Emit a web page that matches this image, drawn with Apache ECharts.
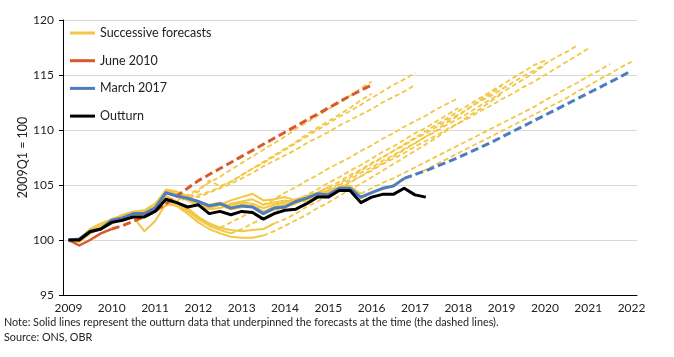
<!DOCTYPE html>
<html><head><meta charset="utf-8">
<script src="https://cdn.jsdelivr.net/npm/echarts@6/dist/echarts.min.js"></script>
<style>html,body{margin:0;padding:0;background:#fff}#c{width:674px;height:357px}</style>
</head><body><div id="c"></div>
<script>
const years = [2009,2010,2011,2012,2013,2014,2015,2016,2017,2018,2019,2020,2021,2022];
const yTicks = [95, 100, 105, 110, 115, 120];

// Outturn (latest data), 2009Q1 onwards
const outturn = [100, 100.0, 100.75, 101.0, 101.6, 101.8, 102.1, 102.1, 102.6, 103.7, 103.4, 103.0, 103.2, 102.4, 102.6, 102.3, 102.6, 102.5, 101.9, 102.4, 102.7, 102.8, 103.3, 103.9, 103.9, 104.5, 104.5, 103.4, 103.9, 104.15, 104.15, 104.7, 104.1, 103.9];

// June 2010 forecast (outturn at the time + forecast), last outturn quarter
const june2010 = [100, 99.5, 100.0, 100.6, 101.0, 101.3, 101.7, 102.1, 102.6, 103.3, 104.0, 104.7, 105.4, 105.95, 106.5, 107.05, 107.6, 108.15, 108.7, 109.25, 109.8, 110.35, 110.9, 111.45, 112.0, 112.55, 113.1, 113.6, 114.1];
const june2010Start = '2010Q1';

// March 2017 forecast
const march2017 = [100, 100.1, 100.8, 101.0, 101.8, 102.0, 102.4, 102.4, 102.9, 104.3, 104.0, 103.8, 103.5, 103.1, 103.3, 102.9, 103.1, 103.0, 102.4, 102.9, 103.0, 103.5, 103.8, 104.2, 104.1, 104.7, 104.7, 103.9, 104.3, 104.7, 104.9, 105.6, 105.95, 106.3, 106.7, 107.1, 107.5, 107.95, 108.4, 108.85, 109.35, 109.85, 110.35, 110.85, 111.35, 111.85, 112.35, 112.85, 113.35, 113.85, 114.35, 114.85, 115.4];
const march2017Start = '2016Q4';

// Successive forecasts
const nov2010 = [100, 99.8, 100.6, 101.2, 101.6, 101.9, 102.0, 102.3, 102.7, 103.1, 103.6, 104.1, 104.6, 105.2, 105.75, 106.4, 107.0, 107.6, 108.2, 108.8, 109.4, 110.1, 110.7, 111.3, 111.9, 112.5, 113.1, 113.8, 114.4];
const mar2011 = [100, 100.0, 100.9, 101.3, 101.8, 102.2, 102.3, 102.4, 102.8, 103.2, 103.5, 103.8, 104.1, 104.4, 104.8, 105.3, 105.9, 106.5, 107.1, 107.7, 108.3, 108.9, 109.6, 110.2, 110.8, 111.4, 112.0, 112.7, 113.3];
const nov2011 = [100, 99.9, 100.7, 101.2, 101.8, 102.3, 102.6, 102.7, 103.3, 104.5, 104.0, 103.9, 104.4, 105.4, 104.9, 105.3, 105.9, 106.5, 107.0, 107.6, 108.2, 108.8, 109.4, 110.0, 110.6, 111.2, 111.7, 112.3, 112.9, 113.5, 114.1, 114.6, 115.2];
const mar2012 = [100, 100.0, 100.8, 101.1, 101.7, 102.1, 102.3, 102.4, 103.0, 104.6, 104.4, 104.0, 103.9, 104.3, 104.7, 105.1, 105.6, 106.1, 106.7, 107.2, 107.7, 108.2, 108.8, 109.3, 109.8, 110.4, 110.9, 111.4, 111.9, 112.5, 113.0, 113.5, 114.1];
const dec2012 = [100, 100.1, 101.0, 101.5, 101.9, 102.1, 102.1, 100.8, 101.7, 103.3, 103.1, 102.6, 102.0, 101.5, 101.1, 101.6, 102.1, 102.6, 103.2, 103.7, 104.3, 104.8, 105.4, 105.9, 106.5, 107.0, 107.5, 108.1, 108.6, 109.2, 109.7, 110.3, 110.8, 111.3, 111.9, 112.4, 112.9];
const mar2013 = [100, 99.9, 100.7, 101.1, 101.6, 101.9, 102.1, 102.3, 102.9, 104.0, 103.4, 102.7, 101.9, 101.3, 100.9, 100.6, 101.0, 101.5, 102.0, 102.5, 103.0, 103.5, 104.1, 104.6, 105.2, 105.7, 106.3, 106.8, 107.4, 108.0, 108.5, 109.1, 109.7, 110.2, 110.8, 111.4, 112.0];
const dec2013 = [100, 99.9, 100.6, 101.0, 101.5, 101.9, 102.1, 102.2, 102.7, 103.8, 103.1, 102.4, 101.6, 101.0, 100.6, 100.3, 100.2, 100.2, 100.4, 100.8, 101.3, 101.8, 102.3, 102.9, 103.4, 104.0, 104.6, 105.1, 105.7, 106.3, 106.9, 107.5, 108.1, 108.7, 109.3, 110.0, 110.6, 111.3, 111.9, 112.6, 113.3];
const mar2014 = [100, 100.0, 100.8, 101.2, 101.7, 102.0, 102.2, 102.3, 102.8, 104.0, 103.5, 102.9, 102.1, 101.5, 101.1, 100.9, 100.8, 100.9, 101.0, 101.5, 101.9, 102.4, 103.0, 103.5, 104.1, 104.7, 105.2, 105.8, 106.4, 107.0, 107.6, 108.2, 108.8, 109.4, 110.0, 110.7, 111.3, 112.0, 112.7, 113.3, 114.0];
const dec2014 = [100, 100.1, 100.9, 101.2, 101.9, 102.2, 102.5, 102.5, 103.0, 104.4, 104.1, 103.7, 103.3, 102.9, 103.2, 103.6, 103.9, 104.2, 103.6, 103.7, 103.9, 103.6, 103.5, 104.0, 104.6, 105.1, 105.7, 106.3, 106.9, 107.5, 108.1, 108.7, 109.3, 109.9, 110.5, 111.1, 111.7, 112.3, 112.9, 113.5, 114.1, 114.7, 115.3, 115.9, 116.3];
const mar2015 = [100, 100.0, 100.8, 101.1, 101.8, 102.1, 102.4, 102.5, 102.9, 104.3, 104.0, 103.6, 103.1, 102.8, 102.9, 103.3, 103.5, 103.7, 103.2, 103.4, 103.6, 103.4, 103.7, 103.9, 104.4, 105.0, 105.5, 106.1, 106.6, 107.2, 107.7, 108.3, 108.8, 109.4, 109.9, 110.5, 111.0, 111.6, 112.2, 112.8, 113.4, 114.0, 114.6, 115.2, 115.9];
const jul2015 = [100, 100.1, 100.9, 101.2, 101.9, 102.2, 102.5, 102.6, 103.1, 104.5, 104.2, 103.9, 103.5, 103.2, 103.4, 103.1, 103.4, 103.3, 102.9, 103.2, 103.4, 103.7, 104.0, 104.3, 104.8, 105.3, 105.9, 106.4, 107.0, 107.5, 108.1, 108.6, 109.2, 109.7, 110.3, 110.9, 111.4, 112.0, 112.6, 113.1, 113.7, 114.3, 114.9, 115.4, 116.0, 116.6, 117.1, 117.7];
const nov2015 = [100, 100.0, 100.8, 101.1, 101.8, 102.1, 102.4, 102.5, 103.0, 104.4, 104.1, 103.8, 103.4, 103.0, 103.2, 102.9, 103.2, 103.1, 102.6, 103.0, 103.2, 103.5, 103.9, 104.2, 104.5, 104.8, 105.3, 105.8, 106.3, 106.9, 107.4, 107.9, 108.5, 109.0, 109.5, 110.1, 110.6, 111.1, 111.7, 112.2, 112.8, 113.3, 113.9, 114.4, 115.0, 115.6, 116.2, 116.8, 117.4];
const mar2016 = [100, 100.1, 100.8, 101.1, 101.8, 102.1, 102.4, 102.5, 102.9, 104.3, 104.0, 103.7, 103.4, 103.0, 103.2, 102.8, 103.0, 103.0, 102.4, 102.8, 103.0, 103.3, 103.8, 104.1, 104.3, 104.8, 104.9, 104.2, 104.7, 105.2, 105.6, 106.1, 106.6, 107.1, 107.6, 108.1, 108.6, 109.1, 109.6, 110.1, 110.6, 111.1, 111.6, 112.1, 112.7, 113.2, 113.8, 114.3, 114.9, 115.4, 116.0];
const nov2016 = [100, 100.1, 100.8, 101.1, 101.8, 102.1, 102.4, 102.4, 102.9, 104.3, 104.0, 103.7, 103.4, 103.0, 103.2, 102.8, 103.0, 103.0, 102.4, 102.8, 103.0, 103.4, 103.8, 104.1, 104.1, 104.7, 104.7, 103.8, 104.3, 104.6, 105.0, 105.5, 106.0, 106.4, 106.9, 107.4, 107.9, 108.4, 108.9, 109.4, 109.9, 110.4, 110.9, 111.4, 111.9, 112.4, 112.9, 113.5, 114.0, 114.6, 115.1, 115.7, 116.2];

const successiveValues = [nov2010, mar2011, nov2011, mar2012, dec2012, mar2013, dec2013, mar2014, dec2014, mar2015, jul2015, nov2015, mar2016, nov2016];
const successiveStarts = ['2010Q3','2010Q4','2011Q2','2011Q4','2012Q3','2012Q4','2013Q3','2013Q4','2014Q3','2014Q4','2015Q1','2015Q2','2015Q4','2016Q3'];

const legendNames = ['Successive forecasts', 'June 2010', 'March 2017', 'Outturn'];
const noteLines = ['Note: Solid lines represent the outturn data that underpinned the forecasts at the time (the dashed lines).', 'Source: ONS, OBR'];

// build quarter categories
const quarters = [];
years.forEach(y => { for (let q = 1; q <= 4; q++) { if (y === 2022 && q > 1) break; quarters.push(y + 'Q' + q); } });

const YELLOW = '#F2C744', RED = '#D9582C', BLUE = '#4D7CC0', BLACK = '#000000';
const FONT = 'Lato';

function split(values, start) {
  const idx = quarters.indexOf(start);
  const solid = values.map((v, i) => i <= idx ? v : null);
  const dashed = values.map((v, i) => i >= idx ? v : null);
  return [solid, dashed];
}
function lineSeries(name, data, color, width, dashed, z) {
  return {
    name, type: 'line', data, symbol: 'none', silent: true, z,
    connectNulls: false,
    itemStyle: { color },
    lineStyle: { color, width, type: dashed ? dashed : 'solid', cap: 'butt', join: 'round' },
    emphasis: { disabled: true }, animation: false
  };
}

const series = [];
successiveValues.forEach((vals, k) => {
  const [s, d] = split(vals, successiveStarts[k]);
  series.push(lineSeries(legendNames[0], s, YELLOW, 2, null, 2));
  series.push(lineSeries(legendNames[0], d, YELLOW, 1.8, [5, 3], 2));
});
{
  const [s, d] = split(june2010, june2010Start);
  series.push(lineSeries(legendNames[1], s, RED, 2.5, null, 3));
  series.push(lineSeries(legendNames[1], d, RED, 3, [8, 4], 3));
}
{
  const [s, d] = split(march2017, march2017Start);
  series.push(lineSeries(legendNames[2], s, BLUE, 3, null, 4));
  series.push(lineSeries(legendNames[2], d, BLUE, 3, [8, 4], 4));
}
series.push(lineSeries(legendNames[3], outturn, BLACK, 3, null, 5));

const chart = echarts.init(document.getElementById('c'), null, { renderer: 'canvas' });
chart.setOption({
  animation: false,
  backgroundColor: '#ffffff',
  textStyle: { fontFamily: FONT },
  grid: { left: 63, right: 37, top: 20, bottom: 62, containLabel: false },
  legend: {
    data: legendNames.map(n => ({ name: n, icon: 'rect' })),
    orient: 'vertical', left: 65, top: 20,
    itemWidth: 25, itemHeight: 3, itemGap: 11.7,
    textStyle: { fontSize: 12.5, color: '#222', fontFamily: FONT, lineHeight: 16 },
    selectedMode: false
  },
  xAxis: {
    type: 'category', data: quarters, boundaryGap: true,
    axisLine: { lineStyle: { color: '#000', width: 1 } },
    axisTick: { interval: 0, length: 4, lineStyle: { color: '#000' } },
    axisLabel: { interval: 3, formatter: v => v.slice(0, 4), fontSize: 12, color: '#222', margin: 7, fontFamily: FONT },
    splitLine: { show: false }
  },
  yAxis: {
    type: 'value', min: yTicks[0], max: yTicks[yTicks.length - 1], interval: 5,
    name: '2009Q1 = 100', nameLocation: 'middle', nameGap: 34, nameMoveOverlap: false,
    nameTextStyle: { fontSize: 12.5, color: '#222', fontFamily: FONT },
    axisLine: { show: true, lineStyle: { color: '#000', width: 1 } },
    axisTick: { show: true, length: 4, lineStyle: { color: '#000' } },
    axisLabel: { fontSize: 12, color: '#222', margin: 9, fontFamily: FONT },
    splitLine: { lineStyle: { color: '#d9d9d9', width: 1 } }
  },
  graphic: [
    { type: 'text', left: 4, top: 317, style: { text: noteLines[0], font: '10.8px ' + FONT, fill: '#222' } },
    { type: 'text', left: 4, top: 332, style: { text: noteLines[1], font: '10.8px ' + FONT, fill: '#222' } }
  ],
  series
});
</script></body></html>
